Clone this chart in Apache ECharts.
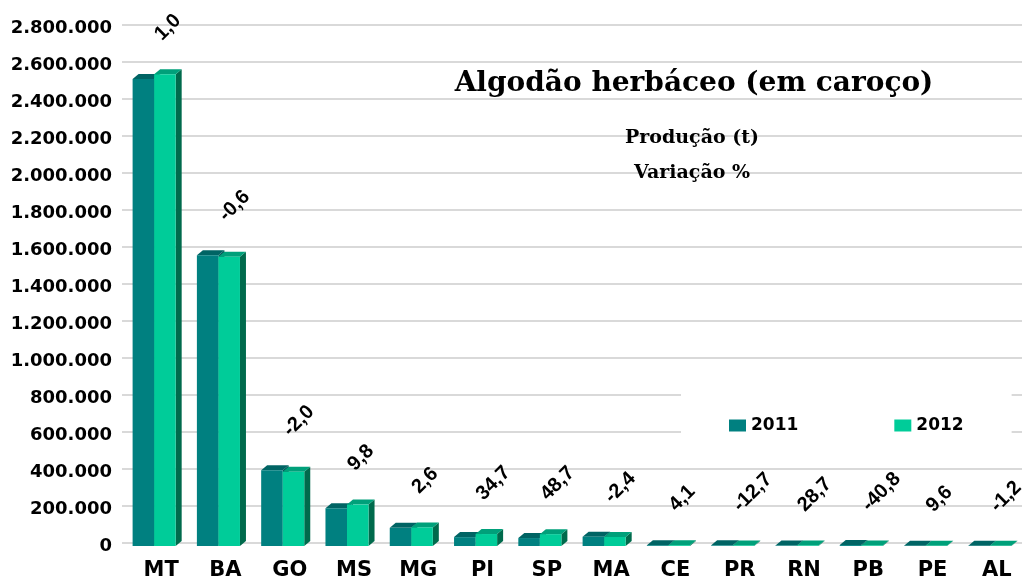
<!DOCTYPE html>
<html>
<head>
<meta charset="utf-8">
<script src="https://cdn.jsdelivr.net/npm/echarts@6.0.0/dist/echarts.min.js"></script>
<style>
	html, body { margin: 0; padding: 0; background: #fff; }
	#bar { width: 1029px; height: 581px; }
</style>
</head>
<body>
<div id="bar"></div>
<script>
var categorias = ['MT', 'BA', 'GO', 'MS', 'MG', 'PI', 'SP', 'MA', 'CE', 'PR', 'RN', 'PB', 'PE', 'AL'];
var prod2011 = [2525000, 1572000, 410000, 204000, 98000, 48000, 43000, 50000, 4000, 3500, 2300, 5000, 1000, 1000];
var prod2012 = [2550000, 1563000, 402000, 224000, 100500, 64700, 64000, 48800, 4200, 3050, 2960, 2960, 1100, 990];
var variacao = ['1,0', '-0,6', '-2,0', '9,8', '2,6', '34,7', '48,7', '-2,4', '4,1', '-12,7', '28,7', '-40,8', '9,6', '-1,2'];
var anos = ['2011', '2012'];
var yMin = 0, yMax = 2800000, yStep = 200000;

var myChart = echarts.init(document.getElementById('bar'));

// cores de cada ano: frente, topo, lado
var cores = [
	{ front: '#008080', top: '#006464', side: '#005a5a' },
	{ front: '#00cc99', top: '#00a07a', side: '#006a4c' }
];

function fmtMil(v) {
	return String(v).replace(/\B(?=(\d{3})+(?!\d))/g, '.');
}

// barra "3d" feita na mao (frente + topo + lado)
function barra3d(k) {
	return function(params, api) {
		var i = api.value(0);
		var v = api.value(1);
		var base = api.coord([i, 0]);
		var topo = api.coord([i, v]);
		var w = api.size([1, 0])[0] * 0.335;
		var dx = 6, dy = 5, oy = 3; // profundidade
		var x0 = base[0] - w + k * w;
		var yb = base[1] + oy, yt = topo[1] + oy;
		var c = cores[k];
		var els = [
			{ type: 'polygon', shape: { points: [[x0 + w, yt], [x0 + w + dx, yt - dy], [x0 + w + dx, yb - dy], [x0 + w, yb]] }, style: { fill: c.side } },
			{ type: 'polygon', shape: { points: [[x0, yt], [x0 + dx, yt - dy], [x0 + w + dx, yt - dy], [x0 + w, yt]] }, style: { fill: c.top } },
			{ type: 'rect', shape: { x: x0, y: yt, width: w, height: yb - yt }, style: { fill: c.front } }
		];
		if (k == 1) {
			var yy = api.coord([i, Math.max(prod2011[i], prod2012[i])])[1] + oy - dy;
			els.push({
				type: 'text',
				x: base[0] + 4,
				y: yy - 32,
				rotation: Math.PI / 4,
				style: {
					text: variacao[i],
					fill: '#000',
					font: 'bold 20px "Liberation Sans"',
					align: 'left',
					verticalAlign: 'middle'
				}
			});
		}
		return { type: 'group', children: els };
	};
}

function serie(k, dados) {
	return {
		name: anos[k],
		type: 'custom',
		itemStyle: { color: cores[k].front },
		renderItem: barra3d(k),
		encode: { x: 0, y: 1 },
		clip: false,
		data: dados.map(function(v, i) { return [i, v]; }),
		z: 3 + k
	};
}

var option = {
	animation: false,
	title: [
		{
			text: 'Algodão herbáceo (em caroço)',
			left: 689,
			top: 65,
			textAlign: 'center',
			textStyle: { fontFamily: 'DejaVu Serif', fontWeight: 'bold', fontSize: 28, color: '#000' }
		},
		{
			text: 'Produção (t)\nVariação %',
			left: 687,
			top: 116,
			textAlign: 'center',
			textStyle: { fontFamily: 'DejaVu Serif', fontWeight: 'bold', fontSize: 19, lineHeight: 35, color: '#000' }
		}
	],
	legend: {
		data: anos,
		left: 681,
		top: 394,
		padding: [23, 48, 23, 48],
		backgroundColor: '#fff',
		icon: 'rect',
		itemWidth: 17,
		itemHeight: 12,
		itemGap: 96,
		textStyle: { fontFamily: 'DejaVu Sans', fontWeight: 'bold', fontSize: 17, color: '#000' },
		z: 10
	},
	grid: {
		left: 122,
		right: 7,
		top: 25,
		bottom: 33
	},
	xAxis: {
		type: 'category',
		data: categorias,
		axisLine: { show: false },
		axisTick: { show: false },
		axisLabel: {
			margin: 17,
			padding: [0, 0, 0, 14],
			fontFamily: 'DejaVu Sans',
			fontWeight: 'bold',
			fontSize: 21,
			color: '#000'
		}
	},
	yAxis: {
		type: 'value',
		min: yMin,
		max: yMax,
		interval: yStep,
		axisLine: { show: false },
		axisTick: { show: false },
		splitLine: { lineStyle: { color: '#d9d9d9', width: 2 } },
		axisLabel: {
			margin: 10,
			verticalAlign: 'top',
			lineHeight: 7,
			fontFamily: 'DejaVu Sans',
			fontWeight: 'bold',
			fontSize: 18,
			color: '#000',
			formatter: fmtMil
		}
	},
	series: [serie(0, prod2011), serie(1, prod2012)]
};
myChart.setOption(option);
</script>
</body>
</html>
